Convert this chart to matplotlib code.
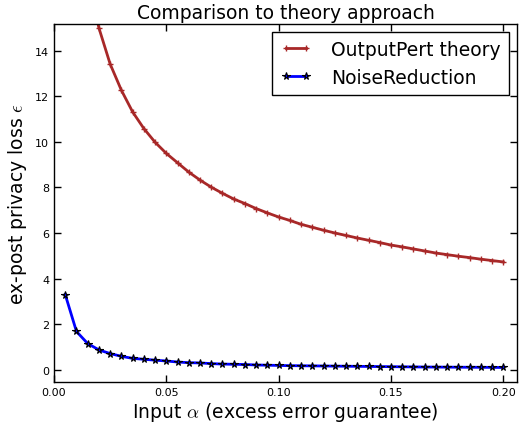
import matplotlib
matplotlib.use("Agg")
import matplotlib.pyplot as plt

alpha = [0.005, 0.01, 0.015, 0.02, 0.025, 0.03, 0.035, 0.04, 0.045, 0.05,
         0.055, 0.06, 0.065, 0.07, 0.075, 0.08, 0.085, 0.09, 0.095, 0.1,
         0.105, 0.11, 0.115, 0.12, 0.125, 0.13, 0.135, 0.14, 0.145, 0.15,
         0.155, 0.16, 0.165, 0.17, 0.175, 0.18, 0.185, 0.19, 0.195, 0.2]

output_pert = [29.9, 21.2, 17.3, 14.99, 13.41, 12.26, 11.31, 10.58, 9.98, 9.49,
               9.08, 8.67, 8.32, 8.01, 7.74, 7.49, 7.29, 7.07, 6.88, 6.70,
               6.55, 6.38, 6.25, 6.12, 6.00, 5.89, 5.78, 5.68, 5.58, 5.47,
               5.39, 5.30, 5.21, 5.12, 5.05, 4.98, 4.92, 4.85, 4.79, 4.73]

noise_reduction = [3.30, 1.68, 1.15, 0.87, 0.71, 0.59, 0.50, 0.46, 0.42, 0.385,
                   0.34, 0.31, 0.30, 0.27, 0.25, 0.24, 0.23, 0.21, 0.20, 0.19,
                   0.18, 0.175, 0.17, 0.165, 0.16, 0.155, 0.15, 0.145, 0.14, 0.135,
                   0.13, 0.125, 0.12, 0.118, 0.115, 0.112, 0.11, 0.108, 0.105, 0.10]

xticks = [0.00, 0.05, 0.10, 0.15, 0.20]
yticks = [0, 2, 4, 6, 8, 10, 12, 14]

plt.rcParams['mathtext.fontset'] = 'cm'
plt.rcParams['xtick.direction'] = 'in'
plt.rcParams['ytick.direction'] = 'in'
plt.rcParams['xtick.top'] = True
plt.rcParams['ytick.right'] = True

W, H = 519, 431
fig = plt.figure(figsize=(W / 100, H / 100), dpi=100)
ax = fig.add_axes([54 / W, 1 - 383.3 / H, (517 - 54) / W, (383.3 - 24.7) / H])

ax.plot(alpha, output_pert, color='#a82828', lw=2, marker='+', ms=5, mew=1.0,
        label='OutputPert theory')
ax.plot(alpha, noise_reduction, color='b', lw=2, marker='*', ms=5.5,
        mfc='b', mec='k', mew=0.8, label='NoiseReduction')

ax.set_xlim(0, 0.2061)
ax.set_ylim(-0.55, 15.18)
ax.set_xticks(xticks)
ax.set_xticklabels(['%.2f' % t for t in xticks])
ax.set_yticks(yticks)
ax.tick_params(labelsize=8, length=5, width=1)
for s in ax.spines.values():
    s.set_linewidth(1)

ax.set_title('Comparison to theory approach', fontsize=13.5, pad=4)
ax.set_xlabel(r'Input $\alpha$ (excess error guarantee)', fontsize=13.5, labelpad=2)
ax.set_ylabel(r'ex-post privacy loss $\epsilon$', fontsize=13.5, labelpad=4)

leg = ax.legend(loc='upper right', fontsize=13.5, numpoints=2, fancybox=False,
                handlelength=1.7, handletextpad=1.05, borderaxespad=0.45,
                framealpha=1)
leg.get_frame().set_edgecolor('k')
leg.get_frame().set_linewidth(1)

fig.savefig('out.png', dpi=100, facecolor='white')
